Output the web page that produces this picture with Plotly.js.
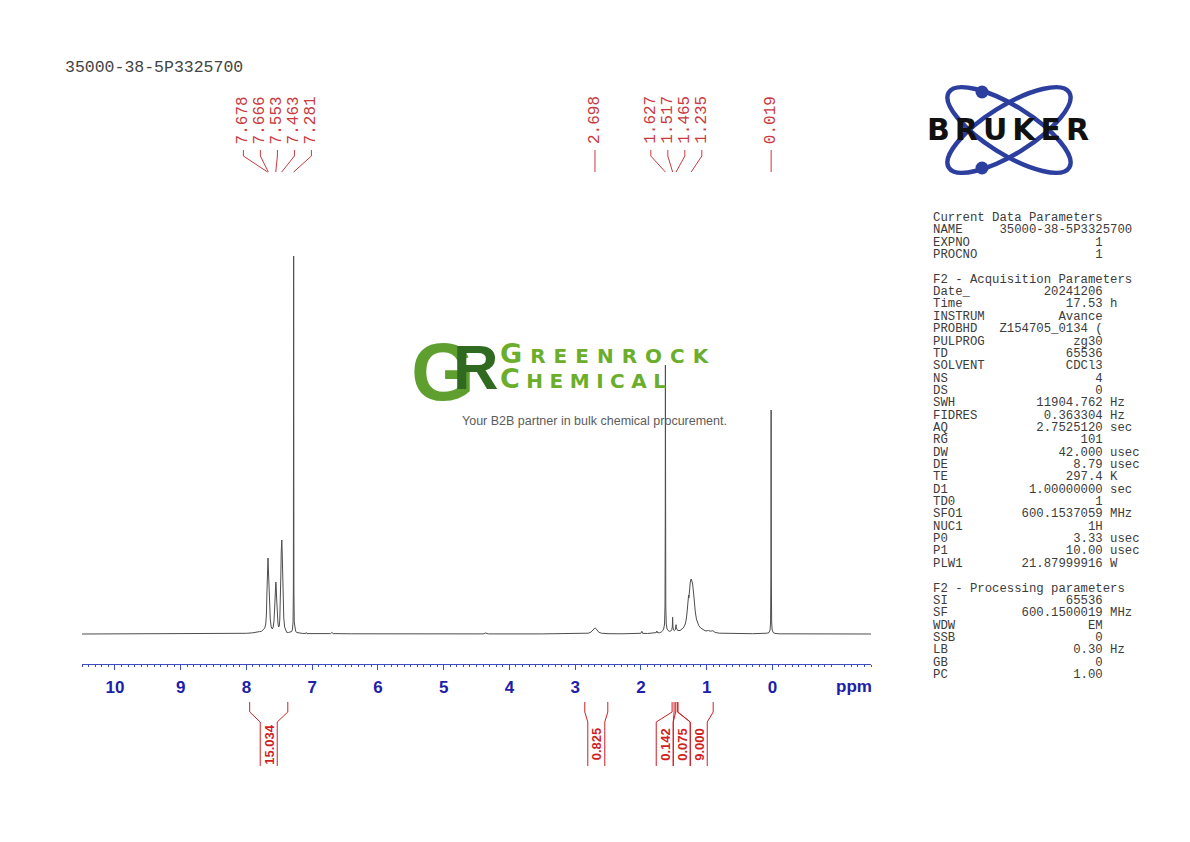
<!DOCTYPE html>
<html>
<head>
<meta charset="utf-8">
<script src="https://cdn.plot.ly/plotly-3.0.1.min.js"></script>
<style>
  html, body { margin: 0; padding: 0; background: #fff; }
  #spectrum { width: 1190px; height: 842px; }
  /* wide lettering of the watermark / logo words */
  .annotation[data-index="2"] text { letter-spacing: 8px; }
  .annotation[data-index="3"] text { letter-spacing: 6.5px; }
  .annotation[data-index="5"] text { letter-spacing: 5px; }
</style>
</head>
<body>
<div id="spectrum"></div>
<script>
// ---- data ----
const sampleName = '35000-38-5P3325700';

// spectrum trace: chemical shift (ppm) and intensity (arbitrary units)
const specPpm = [10.5, 9.5, 8.6, 8.3, 8.0, 7.9, 7.84, 7.82, 7.8, 7.77, 7.745, 7.72, 7.705, 7.695, 7.688, 7.682, 7.676, 7.671, 7.667, 7.664, 7.66, 7.654, 7.646, 7.636, 7.622, 7.606, 7.592, 7.58, 7.57, 7.562, 7.556, 7.552, 7.548, 7.54, 7.53, 7.52, 7.51, 7.5, 7.492, 7.484, 7.476, 7.47, 7.465, 7.461, 7.456, 7.449, 7.441, 7.431, 7.418, 7.4, 7.387, 7.36, 7.33, 7.31, 7.298, 7.29, 7.285, 7.282, 7.281, 7.28, 7.277, 7.272, 7.264, 7.25, 7.23, 7.2, 7.15, 7.1, 7.09, 7.08, 6.9, 6.72, 6.7, 6.68, 6.4, 5.0, 4.4, 4.36, 4.32, 3.5, 3.0, 2.85, 2.8, 2.76, 2.73, 2.71, 2.698, 2.685, 2.665, 2.64, 2.6, 2.5, 2.3, 2.1, 2.0, 1.985, 1.975, 1.9, 1.8, 1.765, 1.757, 1.75, 1.72, 1.69, 1.665, 1.65, 1.64, 1.633, 1.629, 1.627, 1.625, 1.621, 1.614, 1.602, 1.585, 1.568, 1.545, 1.53, 1.522, 1.517, 1.512, 1.505, 1.49, 1.478, 1.47, 1.465, 1.46, 1.452, 1.44, 1.405, 1.38, 1.355, 1.33, 1.314, 1.3, 1.294, 1.283, 1.278, 1.274, 1.27, 1.262, 1.25, 1.24, 1.235, 1.228, 1.213, 1.2, 1.192, 1.18, 1.172, 1.155, 1.142, 1.12, 1.09, 1.06, 1.025, 0.99, 0.975, 0.965, 0.94, 0.905, 0.895, 0.87, 0.8, 0.6, 0.3, 0.08, 0.05, 0.035, 0.027, 0.022, 0.019, 0.016, 0.011, 0.003, -0.012, -0.04, -0.1, -0.5, -1.5];
const specInt = [0, 0, 0.1, 0.3, 0.7, 1.2, 2, 2.8, 2.4, 2.6, 4, 6, 10, 20, 40, 62, 75, 76, 68, 60, 57, 44, 26, 14, 7, 5, 7, 13, 26, 42, 50, 52, 49, 36, 20, 11, 7, 8, 14, 30, 58, 82, 93, 94, 84, 60, 34, 16, 7, 3, 1.7, 1.5, 1.7, 2.5, 5, 12, 45, 180, 378, 180, 45, 12, 5, 2.5, 1.5, 1, 0.6, 0.5, 1.5, 0.4, 0.3, 0.4, 1.6, 0.4, 0.2, 0.1, 0.1, 1, 0.1, 0.1, 0.2, 0.4, 0.8, 1.8, 3.6, 5.5, 6.2, 5.5, 3.6, 1.8, 0.8, 0.3, 0.2, 0.3, 0.7, 2.7, 0.7, 0.5, 0.8, 1.4, 3, 1.4, 1.2, 2, 3.5, 6, 10, 28, 120, 269, 120, 28, 10, 5, 3.5, 2.7, 3, 4.5, 7, 16.7, 7, 4, 3.3, 4, 6, 9.3, 6, 4, 3.5, 3.5, 4.5, 6, 9, 13, 20, 27, 33, 33, 39, 36, 44, 51, 54.5, 55, 54, 50, 42, 35, 27, 22, 15, 12, 8.5, 6, 4.5, 3.3, 3, 4, 3.2, 2.8, 3.3, 2.5, 1.5, 0.8, 0.4, 0.3, 0.8, 1.5, 4, 12, 60, 224, 60, 12, 4, 1.5, 0.6, 0.2, 0, 0];

// picked peaks
const peakPpm = [7.678, 7.666, 7.553, 7.463, 7.281, 2.698, 1.627, 1.517, 1.465, 1.235, 0.019];

// integral regions (ppm) and their values
const integralFrom = [7.95, 2.853, 1.525, 1.47, 1.435];
const integralTo = [7.37, 2.503, 1.495, 1.445, 0.9];
const integralValues = ['15.034', '0.825', '0.142', '0.075', '9.000'];

// axis ticks
const tickVals = [10, 9, 8, 7, 6, 5, 4, 3, 2, 1, 0];
const tickText = ['10', '9', '8', '7', '6', '5', '4', '3', '2', '1', '0'];

// parameter block
const paramHeaders = ['Current Data Parameters', 'F2 - Acquisition Parameters', 'F2 - Processing parameters'];
const currentNames = ['NAME', 'EXPNO', 'PROCNO'];
const currentValues = [sampleName, '1', '1'];
const currentUnits = ['', '', ''];
const acqNames = ['Date_', 'Time', 'INSTRUM', 'PROBHD', 'PULPROG', 'TD', 'SOLVENT', 'NS', 'DS', 'SWH', 'FIDRES', 'AQ', 'RG', 'DW', 'DE', 'TE', 'D1', 'TD0', 'SFO1', 'NUC1', 'P0', 'P1', 'PLW1'];
const acqValues = ['20241206', '17.53', 'Avance', 'Z154705_0134 (', 'zg30', '65536', 'CDCl3', '4', '0', '11904.762', '0.363304', '2.7525120', '101', '42.000', '8.79', '297.4', '1.00000000', '1', '600.1537059', '1H', '3.33', '10.00', '21.87999916'];
const acqUnits = ['', 'h', '', '', '', '', '', '', '', 'Hz', 'Hz', 'sec', '', 'usec', 'usec', 'K', 'sec', '', 'MHz', '', 'usec', 'usec', 'W'];
const procNames = ['SI', 'SF', 'WDW', 'SSB', 'LB', 'GB', 'PC'];
const procValues = ['65536', '600.1500019', 'EM', '0', '0.30', '0', '1.00'];
const procUnits = ['', 'MHz', '', '', 'Hz', '', ''];

// ---- layout geometry (pixels in the 1190x842 page) ----
const plotL = 82, plotR = 871, plotT = 200, plotB = 664;
const xRange = [10.5, -1.5];
const yRange = [-30, 434];
const axisBlue = '#3b4cc4';
const peakRed = '#c9393d';
const intRed = '#d01f24';
const mono = 'Liberation Mono, Courier New, monospace';
const sans = 'Liberation Sans, Arial, sans-serif';

const px2x = px => (px - plotL) / (plotR - plotL);
const px2y = py => (plotB - py) / (plotB - plotT);
const ppm2px = p => plotL + (xRange[0] - p) / (xRange[0] - xRange[1]) * (plotR - plotL);

// spread labels so that neighbours are at least `gap` px apart, groups centred on their marks
function spreadLabels(centers, gap) {
    let groups = centers.map((c, i) => ({ idx: [i], mean: c }));
    let merged = true;
    while (merged) {
        merged = false;
        for (let i = 0; i < groups.length - 1; i++) {
            const a = groups[i], b = groups[i + 1];
            const aEnd = a.mean + (a.idx.length - 1) * gap / 2;
            const bStart = b.mean - (b.idx.length - 1) * gap / 2;
            if (bStart - aEnd < gap) {
                const idx = a.idx.concat(b.idx);
                const mean = idx.reduce((s, k) => s + centers[k], 0) / idx.length;
                groups.splice(i, 2, { idx: idx, mean: mean });
                merged = true;
                break;
            }
        }
    }
    const out = [];
    groups.forEach(g => g.idx.forEach((k, j) => { out[k] = g.mean + (j - (g.idx.length - 1) / 2) * gap; }));
    return out;
}

const shapes = [];
const annotations = [];

// 0-4: watermark, 5: Bruker word (indices used by the css above)
annotations.push({ text: 'G', x: px2x(443), y: px2y(371), xanchor: 'center', yanchor: 'middle',
    font: { family: sans, size: 82, color: '#5f9f2f', weight: 'bold' } });
annotations.push({ text: 'R', x: px2x(476), y: px2y(367), xanchor: 'center', yanchor: 'middle',
    font: { family: sans, size: 63, color: '#2f6a20', weight: 'bold' } });
annotations.push({ text: 'G<span style="font-size:20px">REENROCK</span>', x: px2x(609), y: px2y(353), xanchor: 'center', yanchor: 'middle',
    font: { family: 'DejaVu Sans, sans-serif', size: 27, color: '#6aae2c', weight: 'bold' } });
annotations.push({ text: 'C<span style="font-size:20px">HEMICAL</span>', x: px2x(586), y: px2y(378), xanchor: 'center', yanchor: 'middle',
    font: { family: 'DejaVu Sans, sans-serif', size: 27, color: '#6aae2c', weight: 'bold' } });
annotations.push({ text: 'Your B2B partner in bulk chemical procurement.', x: px2x(594), y: px2y(421), xanchor: 'center', yanchor: 'middle',
    font: { family: sans, size: 12.5, color: '#5c5c5c' } });
annotations.push({ text: 'BRUKER', x: px2x(1010), y: px2y(129), xanchor: 'center', yanchor: 'middle',
    font: { family: 'DejaVu Sans, sans-serif', size: 30, color: '#111', weight: 'bold' } });

// sample name at the top left
annotations.push({ text: sampleName, x: px2x(63), y: px2y(68), xanchor: 'left', yanchor: 'middle',
    font: { family: mono, size: 16.5, color: '#444' } });

// "ppm" at the end of the axis
annotations.push({ text: 'ppm', x: px2x(854), y: px2y(686), xanchor: 'center', yanchor: 'middle',
    font: { family: sans, size: 17, color: '#1d20a8', weight: 'bold' } });

// peak labels with connectors
const peakPx = peakPpm.map(ppm2px);
const peakLabelPx = spreadLabels(peakPx, 17);
peakPpm.forEach((p, i) => {
    const lx = px2x(peakLabelPx[i]), tx = px2x(peakPx[i]);
    annotations.push({ text: p.toFixed(3), x: lx, y: px2y(120), xanchor: 'center', yanchor: 'middle', textangle: -90,
        font: { family: mono, size: 16, color: peakRed } });
    shapes.push({ type: 'path', xref: 'paper', yref: 'paper',
        path: `M${lx},${px2y(150)} L${lx},${px2y(156)} L${tx},${px2y(172)}`,
        line: { color: peakRed, width: 1 } });
});

// integrals below the axis
const intCenters = integralFrom.map((f, i) => (ppm2px(f) + ppm2px(integralTo[i])) / 2);
const intLabelPx = spreadLabels(intCenters, 17);
integralValues.forEach((v, i) => {
    const a = ppm2px(integralFrom[i]), b = ppm2px(integralTo[i]), c = intLabelPx[i];
    [[a, c - 8.5], [b, c + 8.5]].forEach(([top, bot]) => {
        shapes.push({ type: 'path', xref: 'paper', yref: 'paper',
            path: `M${px2x(top)},${px2y(702)} L${px2x(top)},${px2y(712)} L${px2x(bot)},${px2y(722)} L${px2x(bot)},${px2y(766)}`,
            line: { color: intRed, width: 1 } });
    });
    annotations.push({ text: v, x: px2x(c), y: px2y(744), xanchor: 'center', yanchor: 'middle', textangle: -90,
        font: { family: sans, size: 13, color: intRed, weight: 'bold' } });
});

// parameter listing, Bruker style columns
function paramLine(name, value, unit) {
    const start = Math.max(9, 23 - value.length);
    let s = name.padEnd(start, ' ') + value;
    if (unit) s += ' ' + unit;
    return s.replace(/ /g, '\u00a0');
}
const rows = [paramHeaders[0]]
    .concat(currentNames.map((n, i) => paramLine(n, currentValues[i], currentUnits[i])))
    .concat([''], [paramHeaders[1]])
    .concat(acqNames.map((n, i) => paramLine(n, acqValues[i], acqUnits[i])))
    .concat([''], [paramHeaders[2]])
    .concat(procNames.map((n, i) => paramLine(n, procValues[i], procUnits[i])));
rows.forEach((r, i) => {
    if (!r) return;
    annotations.push({ text: r.replace(/ /g, '\u00a0'), x: px2x(931), y: px2y(218 + 12.35 * i), xanchor: 'left', yanchor: 'middle',
        font: { family: mono, size: 12.3, color: '#3c3c3c' } });
});
annotations.forEach(a => { a.xref = 'paper'; a.yref = 'paper'; a.showarrow = false; });

// Bruker orbits (decoration)
const brukerSvg = '<svg xmlns="http://www.w3.org/2000/svg" width="180" height="96" viewBox="0 0 180 96">' +
    '<g fill="none" stroke="#2c3f9f" stroke-width="4.5">' +
    '<ellipse cx="89" cy="48" rx="71" ry="24" transform="rotate(32 89 48)"/>' +
    '<ellipse cx="89" cy="48" rx="71" ry="24" transform="rotate(-32 89 48)"/></g>' +
    '<circle cx="62" cy="10" r="6.5" fill="#2c3f9f"/><circle cx="62" cy="86" r="6.5" fill="#2c3f9f"/></svg>';

const minorVals = [];
for (let k = -15; k <= 105; k++) { if (k % 10 !== 0) minorVals.push(k / 10); }

const trace = {
    x: specPpm, y: specInt, type: 'scatter', mode: 'lines',
    line: { color: '#4d4d4d', width: 1 }, hoverinfo: 'skip'
};

Plotly.newPlot('spectrum', [trace], {
    width: 1190, height: 842,
    margin: { l: plotL, r: 1190 - plotR, t: plotT, b: 842 - plotB, pad: 0 },
    paper_bgcolor: '#fff', plot_bgcolor: 'rgba(0,0,0,0)',
    showlegend: false,
    xaxis: {
        range: xRange, autorange: false, fixedrange: true,
        showline: true, linecolor: axisBlue, linewidth: 1,
        showgrid: false, zeroline: false,
        tickmode: 'array', tickvals: tickVals, ticktext: tickText,
        ticks: 'outside', ticklen: 5, tickwidth: 1, tickcolor: axisBlue, ticklabelstandoff: 3,
        tickfont: { family: sans, size: 17, color: '#1d20a8', weight: 'bold' },
        minor: { tickmode: 'array', tickvals: minorVals, ticks: 'outside', ticklen: 2, tickwidth: 1, tickcolor: axisBlue, showgrid: false }
    },
    yaxis: { range: yRange, autorange: false, visible: false, fixedrange: true },
    shapes: shapes,
    annotations: annotations,
    images: [{
        source: 'data:image/svg+xml;charset=utf-8,' + encodeURIComponent(brukerSvg),
        xref: 'paper', yref: 'paper', x: px2x(920), y: px2y(82),
        sizex: 180 / (plotR - plotL), sizey: 96 / (plotB - plotT),
        xanchor: 'left', yanchor: 'top', sizing: 'stretch', layer: 'below'
    }]
}, { displayModeBar: false, staticPlot: true });
</script>
</body>
</html>
